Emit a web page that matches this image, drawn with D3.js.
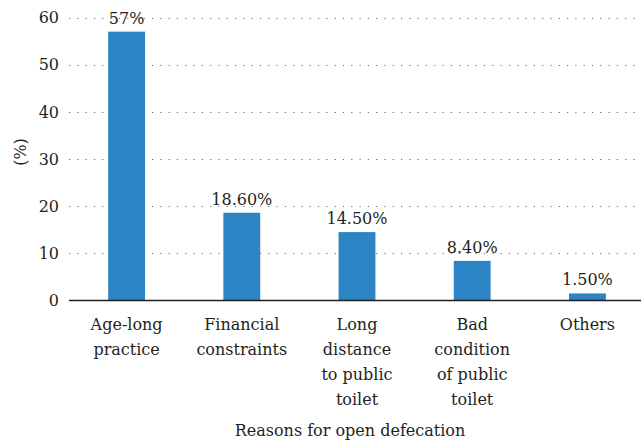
<!DOCTYPE html>
<html lang="en">
<head>
  <meta charset="UTF-8">
  <title>Reasons for open defecation</title>
  <script src="https://d3js.org/d3.v7.min.js"></script>
  <style>
    body {
      margin: 0;
      background: #fff;
    }
    svg {
      display: block;
    }
    svg text {
      font-family: "DejaVu Serif", serif;
      font-size: 16px;
      fill: #231f20;
    }
    .grid line {
      stroke: #6d6e71;
      stroke-width: 1.2px;
      stroke-dasharray: 1.2 7.1;
    }
    .bar {
      fill: #2d84c5;
    }
  </style>
</head>
<body>
  <svg width="641" height="443"></svg>

  <script>
    // data
    const categories = [
      ["Age-long", "practice"],
      ["Financial", "constraints"],
      ["Long", "distance", "to public", "toilet"],
      ["Bad", "condition", "of public", "toilet"],
      ["Others"]
    ];
    const values = [57, 18.6, 14.5, 8.4, 1.5];
    const valueLabels = ["57%", "18.60%", "14.50%", "8.40%", "1.50%"];
    const yTicks = [0, 10, 20, 30, 40, 50, 60];

    const svg = d3.select("svg");
    const plotLeft = 69, plotRight = 645, plotTop = 17.5, plotBottom = 300.5;

    const x = d3.scaleBand()
      .domain(d3.range(values.length))
      .range([plotLeft, plotRight])
      .paddingInner(0.68)
      .paddingOuter(0.34);

    const y = d3.scaleLinear()
      .domain([0, 60])
      .range([plotBottom, plotTop]);

    // dotted gridlines
    svg.append("g")
      .attr("class", "grid")
      .selectAll("line")
      .data(yTicks.filter(d => d > 0))
      .join("line")
      .attr("x1", plotLeft)
      .attr("x2", 641)
      .attr("y1", d => Math.round(y(d)) + 0.5)
      .attr("y2", d => Math.round(y(d)) + 0.5);

    // y tick labels
    svg.append("g")
      .selectAll("text")
      .data(yTicks)
      .join("text")
      .attr("x", 59)
      .attr("y", d => y(d))
      .attr("dy", "0.36em")
      .attr("text-anchor", "end")
      .text(d => d);

    // bars
    svg.append("g")
      .selectAll("rect")
      .data(values)
      .join("rect")
      .attr("class", "bar")
      .attr("x", (d, i) => x(i))
      .attr("width", x.bandwidth())
      .attr("y", d => y(d))
      .attr("height", d => y(0) - y(d));

    // value labels
    svg.append("g")
      .selectAll("text")
      .data(values)
      .join("text")
      .attr("x", (d, i) => x(i) + x.bandwidth() / 2)
      .attr("y", d => y(d) - 8)
      .attr("text-anchor", "middle")
      .text((d, i) => valueLabels[i]);

    // baseline
    svg.append("line")
      .attr("x1", plotLeft)
      .attr("x2", 641)
      .attr("y1", plotBottom)
      .attr("y2", plotBottom)
      .attr("stroke", "#231f20")
      .attr("stroke-width", 1.6);

    // category labels (multi-line)
    const cat = svg.append("g")
      .selectAll("text")
      .data(categories)
      .join("text")
      .attr("text-anchor", "middle")
      .attr("x", (d, i) => x(i) + x.bandwidth() / 2)
      .attr("y", 330);

    cat.selectAll("tspan")
      .data(d => d)
      .join("tspan")
      .attr("x", function() { return this.parentNode.getAttribute("x"); })
      .attr("dy", (d, i) => i === 0 ? 0 : 25)
      .text(d => d);

    // axis titles
    svg.append("text")
      .attr("x", 350)
      .attr("y", 436)
      .attr("text-anchor", "middle")
      .text("Reasons for open defecation");

    svg.append("text")
      .attr("transform", "translate(26,152) rotate(-90)")
      .attr("text-anchor", "middle")
      .text("(%)");
  </script>
</body>
</html>
